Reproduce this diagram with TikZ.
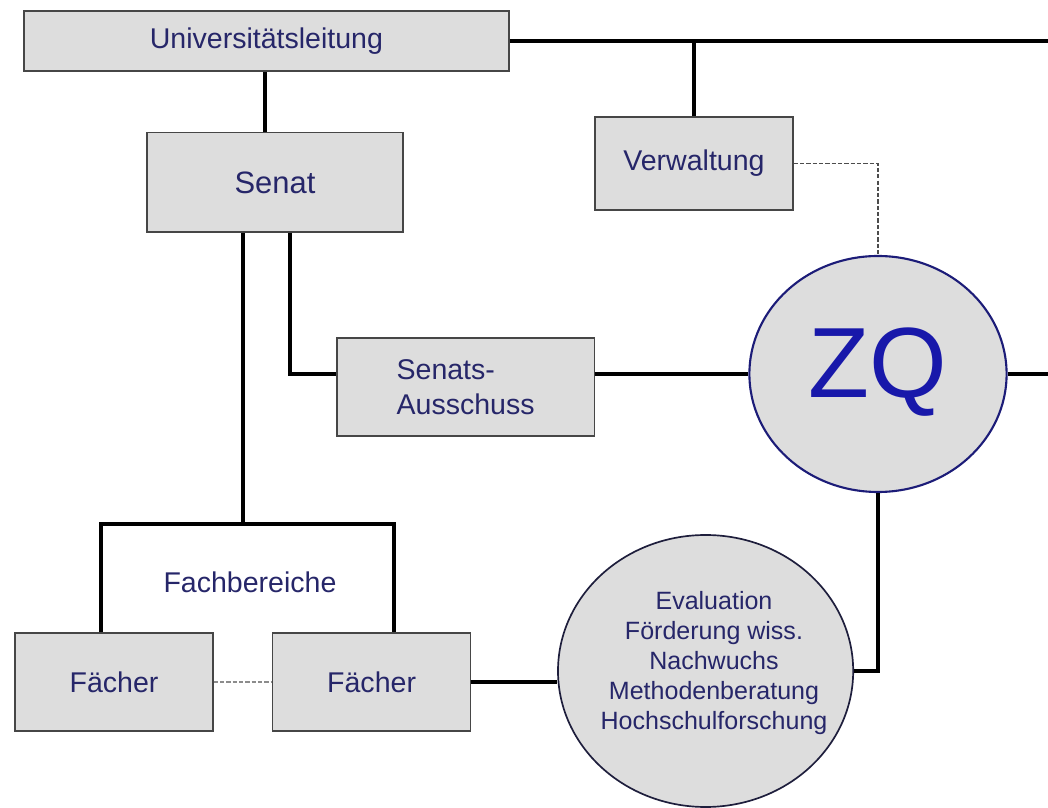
\documentclass[tikz,border=0pt]{standalone}
\usepackage{fontspec}
\setmainfont{Liberation Sans}
\usepackage{tikz}
\usetikzlibrary{shapes.geometric,positioning,calc}

\definecolor{boxgray}{RGB}{221,221,221}
\definecolor{edgegray}{RGB}{70,70,70}
\definecolor{txtnavy}{RGB}{38,38,105}
\definecolor{zqblue}{RGB}{24,24,170}
\definecolor{ringnavy}{RGB}{28,28,120}
\definecolor{ringdark}{RGB}{30,30,60}

\begin{document}
\begin{tikzpicture}[
    x=1cm,y=1cm,
    unit/.style={draw=edgegray, line width=1pt, fill=boxgray, inner sep=0pt, font=\fontsize{20.3}{25}\selectfont, text=txtnavy, align=center},
    ring/.style={ellipse, draw=ringnavy, line width=1.5pt, fill=boxgray, inner sep=0pt},
    link/.style={draw=black, line width=2.3pt},
    loose/.style={draw=black!70, line width=0.9pt, dash pattern=on 3pt off 1.5pt},
    lab/.style={font=\fontsize{20.3}{25}\selectfont, text=txtnavy}
  ]
    \useasboundingbox (0,0) rectangle (26.2,20.2);

    \node[unit, minimum width=12.13cm, minimum height=1.5cm] (ul) at (6.66,19.175) {Universitätsleitung};
    \node[unit, minimum width=6.4cm, minimum height=2.48cm, font=\fontsize{22}{26}\selectfont] (senat) at (6.875,15.64) {Senat};
    \node[unit, minimum width=4.95cm, minimum height=2.33cm] (verw) at (17.35,16.11) {Verwaltung};
    \node[unit, minimum width=6.43cm, minimum height=2.45cm, align=left] (sa) at (11.64,10.525) {Senats-\\Ausschuss};
    \node[ring, minimum width=6.43cm, minimum height=5.9cm, font=\fontsize{71}{80}\selectfont, text=zqblue, text depth=0.55cm] (zq) at (21.95,10.85) {ZQ};

    \node[unit, minimum width=4.95cm, minimum height=2.45cm] (f1) at (2.85,3.15) {Fächer};
    \node[unit, minimum width=4.95cm, minimum height=2.45cm] (f2) at (9.29,3.15) {Fächer};
    \node[lab] (fbtext) at (6.25,5.65) {Fachbereiche};
    \node[ring, draw=ringdark, line width=1.2pt, minimum width=7.38cm, minimum height=6.8cm] (ev) at (17.64,3.425) {};
    \node[lab, font=\fontsize{17.8}{21.3}\selectfont, align=center] (evtext) at (17.85,3.62)
      {Evaluation\\Förderung wiss.\\Nachwuchs\\Methodenberatung\\Hochschulforschung};

    \coordinate (edgetop) at (26.2,19.175);
    \coordinate (edgemid) at (26.2,10.85);
    \coordinate (fb) at (6.075,7.1);

    \draw[link] ([xshift=-0.25cm]senat.north) -- ([xshift=-0.25cm]senat.north |- ul.south);
    \draw[link] (ul.east) -- (edgetop);
    \draw[link] (verw.north) -- (verw.north |- ul.east);
    \draw[loose] (verw.east) -| (zq.north);
    \draw[link] ([xshift=0.375cm]senat.south) |- (sa.west |- zq.west);
    \draw[link] (sa.east |- zq.west) -- (zq.west);
    \draw[link] (zq.east) -- (edgemid);
    \draw[link] ([xshift=-0.8cm]senat.south) -- (fb);
    \draw[link] ([xshift=-0.325cm]f1.north) |- (fb) -| ([xshift=0.56cm]f2.north);
    \draw[loose, draw=black!45] (f1.east) -- (f2.west);
    \draw[link] (f2.east) -- (f2.east -| ev.west);
    \draw[link] (ev.east) -| (zq.south);
  \end{tikzpicture}
\end{document}
